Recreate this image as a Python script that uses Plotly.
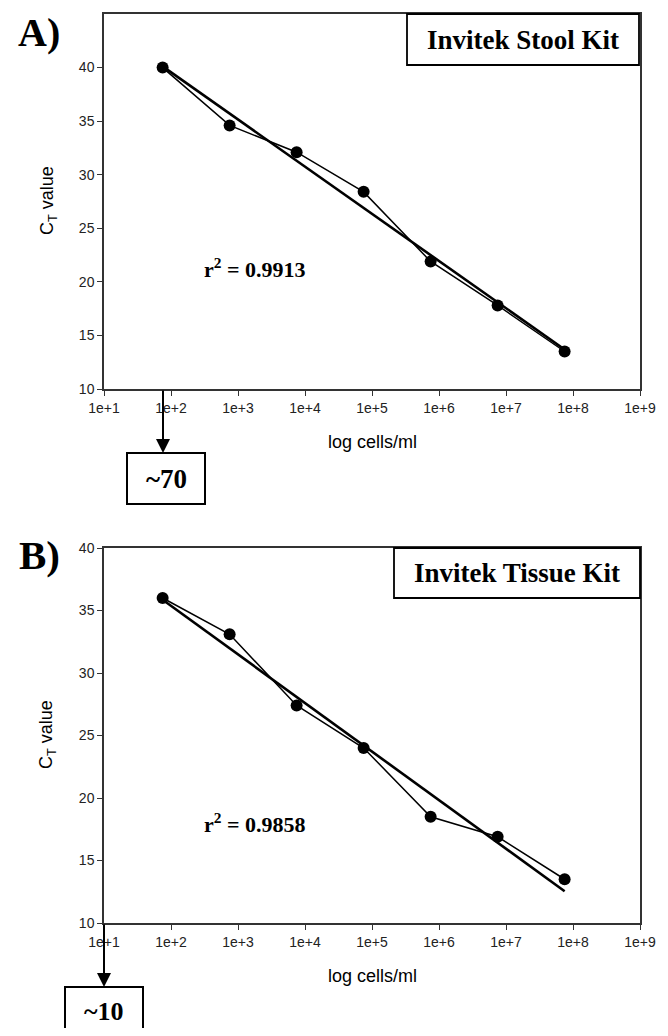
import numpy as np
import plotly.graph_objects as go

# ---------------- data ----------------
cells = [7.5e1, 7.5e2, 7.5e3, 7.5e4, 7.5e5, 7.5e6, 7.5e7]
ct_stool = [40.0, 34.6, 32.1, 28.4, 21.9, 17.8, 13.5]
ct_tissue = [36.0, 33.1, 27.4, 24.0, 18.5, 16.9, 13.5]
x_tickvals = [1e1, 1e2, 1e3, 1e4, 1e5, 1e6, 1e7, 1e8, 1e9]
x_ticktext = ["1e+1", "1e+2", "1e+3", "1e+4", "1e+5", "1e+6", "1e+7", "1e+8", "1e+9"]
y_ticks_a = [10, 15, 20, 25, 30, 35, 40]
y_ticks_b = [10, 15, 20, 25, 30, 35, 40]
r2_stool = "0.9913"
r2_tissue = "0.9858"
kit_a = "Invitek Stool Kit"
kit_b = "Invitek Tissue Kit"
limit_a = "~70"
limit_b = "~10"

# page body has an 8px margin, so the figure is sized to fit inside it
OFF = 8
W, H = 668 - 2 * OFF, 1036 - 2 * OFF
def px(x):
    return (x - OFF) / W
def py(y):
    return 1 - (y - OFF) / H

SANS = "Liberation Sans, Arial, sans-serif"
SERIF = "Liberation Serif, Times New Roman, serif"

def trend(x, y):
    lx = np.log10(np.array(x))
    k, b = np.polyfit(lx, np.array(y), 1)
    xs = [x[0], x[-1]]
    ys = [float(k * np.log10(v) + b) for v in xs]
    return xs, ys

fig = go.Figure()
for xa, ya, ys in [("x", "y", ct_stool), ("x2", "y2", ct_tissue)]:
    fig.add_trace(go.Scatter(x=cells, y=ys, xaxis=xa, yaxis=ya, mode="lines+markers",
                             line=dict(color="black", width=1.5),
                             marker=dict(color="black", size=12), showlegend=False,
                             hoverinfo="skip"))
    tx, ty = trend(cells, ys)
    fig.add_trace(go.Scatter(x=tx, y=ty, xaxis=xa, yaxis=ya, mode="lines",
                             line=dict(color="black", width=2.6), showlegend=False,
                             hoverinfo="skip"))

axcommon = dict(showgrid=False, zeroline=False, showline=True, linecolor="#333",
                linewidth=1.5, mirror=True, ticks="outside", ticklen=5,
                tickcolor="#333", tickwidth=1.2, automargin=False,
                tickfont=dict(family=SANS, size=14, color="#222"))

xdom = [px(104), px(640)]
fig.update_layout(
    template="none",
    width=W, height=H, margin=dict(l=0, r=0, t=0, b=0, autoexpand=False),
    paper_bgcolor="white", plot_bgcolor="white",
    xaxis=dict(domain=xdom, anchor="y", type="log", range=[1, 9],
               tickvals=x_tickvals, ticktext=x_ticktext, **axcommon),
    yaxis=dict(domain=[py(389), py(14)], anchor="x", range=[10, 45],
               tickvals=y_ticks_a, **axcommon),
    xaxis2=dict(domain=xdom, anchor="y2", type="log", range=[1, 9],
                tickvals=x_tickvals, ticktext=x_ticktext, **axcommon),
    yaxis2=dict(domain=[py(923), py(548)], anchor="x2", range=[10, 40],
                tickvals=y_ticks_b, **axcommon),
)

ann = []
def text(x, y, t, size, family, bold=False, angle=0, yanchor="middle"):
    if bold:
        t = "<b>" + t + "</b>"
    ann.append(dict(xref="paper", yref="paper", x=px(x), y=py(y), text=t,
                    showarrow=False, xanchor="center", yanchor=yanchor,
                    textangle=angle, font=dict(family=family, size=size, color="black")))

# panel letters
text(39, OFF, "A)", 40, SERIF, bold=True, yanchor="top")
text(39, 555, "B)", 41, SERIF, bold=True)
# kit boxes
text(523, 40, kit_a, 27, SERIF, bold=True)
text(517, 573, kit_b, 27, SERIF, bold=True)
# r2
text(255, 268, "r<sup>2</sup> = " + r2_stool, 22, SERIF, bold=True)
text(255, 823, "r<sup>2</sup> = " + r2_tissue, 22, SERIF, bold=True)
# axis titles
text(48, 201, "C<sub>T</sub> value", 18, SANS, angle=-90)
text(47, 735, "C<sub>T</sub> value", 18, SANS, angle=-90)
text(372, 442, "log cells/ml", 18, SANS)
text(372, 976, "log cells/ml", 18, SANS)
# limit boxes text
text(166, 479, limit_a, 27, SERIF, bold=True)
text(104, 1011, limit_b, 26, SERIF, bold=True)

# arrows
for xh, yh in [(163, 453), (104, 987)]:
    ann.append(dict(xref="paper", yref="paper", x=px(xh), y=py(yh), ax=0, ay=-64,
                    text="", showarrow=True, arrowhead=2, arrowsize=1.4,
                    arrowwidth=2, arrowcolor="black"))
fig.update_layout(annotations=ann)

shapes = []
def rect(x0, y0, x1, y1, w=2):
    shapes.append(dict(type="rect", xref="paper", yref="paper",
                       x0=px(x0), x1=px(x1), y0=py(y0), y1=py(y1),
                       line=dict(color="black", width=w), fillcolor="rgba(0,0,0,0)"))
rect(407, 14, 639, 65, 1.8)
rect(394, 548, 640, 598, 1.8)
rect(127, 453, 205, 504, 2)
rect(65, 987, 143, 1042, 2)
fig.update_layout(shapes=shapes)

fig.write_html("out.html")
